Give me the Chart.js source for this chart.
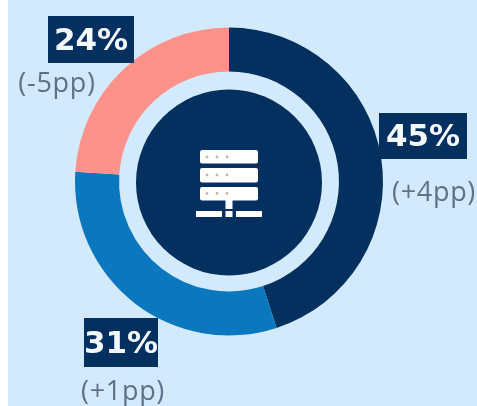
<!DOCTYPE html>
<html><head><meta charset="utf-8">
<style>html,body{margin:0;padding:0;background:#fff}#w{position:relative;width:477px;height:406px}</style>
<script src="https://cdn.jsdelivr.net/npm/chart.js@4"></script></head>
<body><div id="w"><canvas id="c" width="477" height="406"></canvas></div>
<script>
const categories = ['Segment A', 'Segment B', 'Segment C'];
const shareValues = [45, 31, 24];
const shareLabels = ['45%', '31%', '24%'];
const changeLabels = ['(+4pp)', '(+1pp)', '(-5pp)'];
const sliceColors = ['#03305f', '#0b77bf', '#fd928b'];
const labelBoxes = [[379,113,88,46],[84,318,74,49],[48,16,86,47]];
const changePos = [[434,193],[123,392],[57,84]];
const panel = '#d3e9fc', navy = '#03305f';

const decor = {
  id: 'decor',
  beforeDraw(ch) {
    const x = ch.ctx;
    x.save(); x.fillStyle = panel; x.fillRect(8, 0, ch.width - 8, ch.height); x.restore();
  },
  afterDraw(ch) {
    const x = ch.ctx, a = ch.getDatasetMeta(0).data[0], cx = Math.round(a.x), cy = Math.floor(a.y);
    x.save();
    x.fillStyle = navy; x.beginPath(); x.arc(cx, cy + 1.5, 93, 0, Math.PI * 2); x.fill();
    x.fillStyle = '#fff';
    [[-31,13.5],[-13,14.5],[6,13.5]].forEach(([o, h]) => {
      x.beginPath(); x.roundRect(cx - 29, cy + o, 58, h, 2); x.fill();
    });
    x.fillRect(cx - 3.5, cy + 19, 7, 9);
    x.fillRect(cx - 33, cy + 30, 26, 6);
    x.fillRect(cx - 3.5, cy + 30, 7, 6);
    x.fillRect(cx + 7, cy + 30, 26, 6);
    x.fillStyle = '#c9b7a6';
    [[-24],[-6],[12.5]].forEach(([o]) => {
      [-22,-12,-2].forEach(d => { x.beginPath(); x.arc(cx + d, cy + o, 1.4, 0, Math.PI * 2); x.fill(); });
    });
    x.textAlign = 'center'; x.textBaseline = 'middle';
    shareLabels.forEach((t, i) => {
      const b = labelBoxes[i];
      x.fillStyle = navy; x.fillRect(b[0], b[1], b[2], b[3]);
      x.fillStyle = '#f4f8fb'; x.font = 'bold 31px "DejaVu Sans"';
      x.fillText(t, b[0] + b[2] / 2, b[1] + b[3] / 2 + 2);
    });
    x.fillStyle = '#5d7189'; x.font = '27px "Open Sans"'; x.letterSpacing = '0.7px';
    changeLabels.forEach((t, i) => x.fillText(t, changePos[i][0], changePos[i][1]));
    x.restore();
  }
};

new Chart(document.getElementById('c'), {
  type: 'doughnut',
  data: { labels: categories, datasets: [{ data: shareValues, backgroundColor: sliceColors, borderWidth: 0 }] },
  options: {
    responsive: false, animation: false, cutout: '71.4%',
    layout: { padding: { left: 75, right: 94, top: 27.5, bottom: 70.5 } },
    plugins: { legend: { display: false }, tooltip: { enabled: false } }
  },
  plugins: [decor]
});
</script></body></html>
